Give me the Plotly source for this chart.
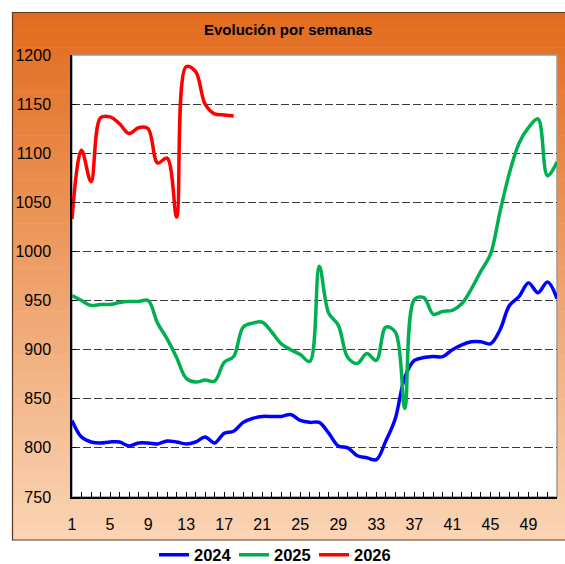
import plotly.graph_objects as go

# Weekly values, weeks 1..52
weeks = list(range(1, 53))

s2024 = [828, 811, 806, 805, 806, 806, 802, 805, 805, 804,
         807, 806, 804, 806, 811, 805, 815, 817, 826, 830,
         832, 832, 832, 834, 828, 826, 826, 815, 802, 800,
         792, 790, 788, 807, 830, 872, 889, 892, 893, 893,
         900, 905, 908, 908, 906, 920, 945, 954, 968, 958,
         969, 952]

s2025 = [955, 950, 945, 946, 946, 948, 949, 949, 950, 927,
         911, 892, 871, 867, 869, 868, 887, 893, 923, 927,
         928, 918, 906, 900, 895, 888, 985, 937, 925, 892,
         886, 896, 889, 923, 918, 840, 951, 953, 936, 939,
         940, 947, 962, 980, 997, 1040, 1080, 1110, 1126, 1135,
         1077, 1091]

s2026 = [1033, 1103, 1071, 1136, 1137, 1130, 1120, 1126, 1125, 1090,
         1095, 1035, 1188, 1183, 1150, 1140, 1139, 1138]

series = [("2024", s2024, "#0000FF"),
          ("2025", s2025, "#00B050"),
          ("2026", s2026, "#FF0000")]

x_ticks = list(range(1, 53, 4))
y_ticks = list(range(750, 1201, 50))

W, H = 565, 564
L, R, T, B = 72, 8, 55, 67
pw, ph = W - L - R, H - T - B


def px_x(px):
    return (px - L) / pw


def px_y(py):
    return (H - B - py) / ph


fig = go.Figure()
for name, vals, col in series:
    fig.add_trace(go.Scatter(
        x=weeks[:len(vals)], y=vals, name=name, mode="lines",
        line=dict(color=col, width=3.5, shape="spline", smoothing=1.0),
    ))

# Orange gradient panel behind the chart
shapes = []
top_c = (226, 108, 30)
bot_c = (250, 212, 180)
p_top, p_bot = 12, 540
n = 60
for i in range(n):
    f = i / (n - 1)
    c = tuple(round(top_c[k] + (bot_c[k] - top_c[k]) * f) for k in range(3))
    y0 = p_top + (p_bot - p_top) * i / n
    y1 = p_top + (p_bot - p_top) * (i + 1) / n + 0.6
    shapes.append(dict(type="rect", xref="paper", yref="paper",
                       x0=px_x(12), x1=px_x(600), y0=px_y(min(y1, p_bot)), y1=px_y(y0),
                       fillcolor="rgb(%d,%d,%d)" % c, line=dict(width=0), layer="below"))
# panel outline
shapes.append(dict(type="rect", xref="paper", yref="paper",
                   x0=px_x(12.5), x1=px_x(600), y0=px_y(540), y1=px_y(12.5),
                   fillcolor="rgba(0,0,0,0)", line=dict(color="#5A3820", width=1.2),
                   layer="below"))
# white plotting area
shapes.append(dict(type="rect", xref="paper", yref="paper",
                   x0=0, x1=1, y0=0, y1=1, fillcolor="white",
                   line=dict(width=0), layer="below"))
# grey plot-area frame (top/right)
shapes.append(dict(type="rect", xref="paper", yref="paper",
                   x0=0, x1=1, y0=0, y1=1, fillcolor="rgba(0,0,0,0)",
                   line=dict(color="#9A9A9A", width=1.5), layer="below"))

font = "Liberation Sans, Arial, sans-serif"

fig.update_layout(
    width=W, height=H,
    margin=dict(l=L, r=R, t=T, b=B, autoexpand=False),
    paper_bgcolor="white", plot_bgcolor="white",
    shapes=shapes,
    showlegend=True,
    legend=dict(orientation="h", x=px_x(154), xanchor="left",
                y=px_y(555), yanchor="middle",
                font=dict(family=font, size=16.5, color="black", weight="bold"),
                bgcolor="rgba(0,0,0,0)", itemwidth=30, tracegroupgap=0,
                entrywidth=35, entrywidthmode="pixels"),
    annotations=[dict(text="<b>Evolución por semanas</b>", xref="paper", yref="paper",
                      x=px_x(288), y=px_y(30), showarrow=False,
                      xanchor="center", yanchor="middle",
                      font=dict(family=font, size=15, color="black"))],
    xaxis=dict(range=[1, 52], tickvals=x_ticks, ticktext=[str(v) for v in x_ticks],
               showgrid=False, zeroline=False, showline=True, linecolor="black",
               linewidth=1.5, ticks="inside", ticklen=5, tickcolor="black",
               minor=dict(ticks="inside", dtick=1, tick0=1, ticklen=5, tickcolor="black"),
               tickfont=dict(family=font, size=16, color="black"),
               ticklabelstandoff=12),
    yaxis=dict(range=[750, 1200], tickvals=y_ticks,
               showgrid=True, gridcolor="#3A3A3A", gridwidth=1, griddash="8px,3px",
               zeroline=False, showline=True, linecolor="black", linewidth=1.5,
               ticks="inside", ticklen=4, tickcolor="black",
               tickfont=dict(family=font, size=16, color="black"),
               ticklabelstandoff=16),
)

fig.write_html("out.html")
